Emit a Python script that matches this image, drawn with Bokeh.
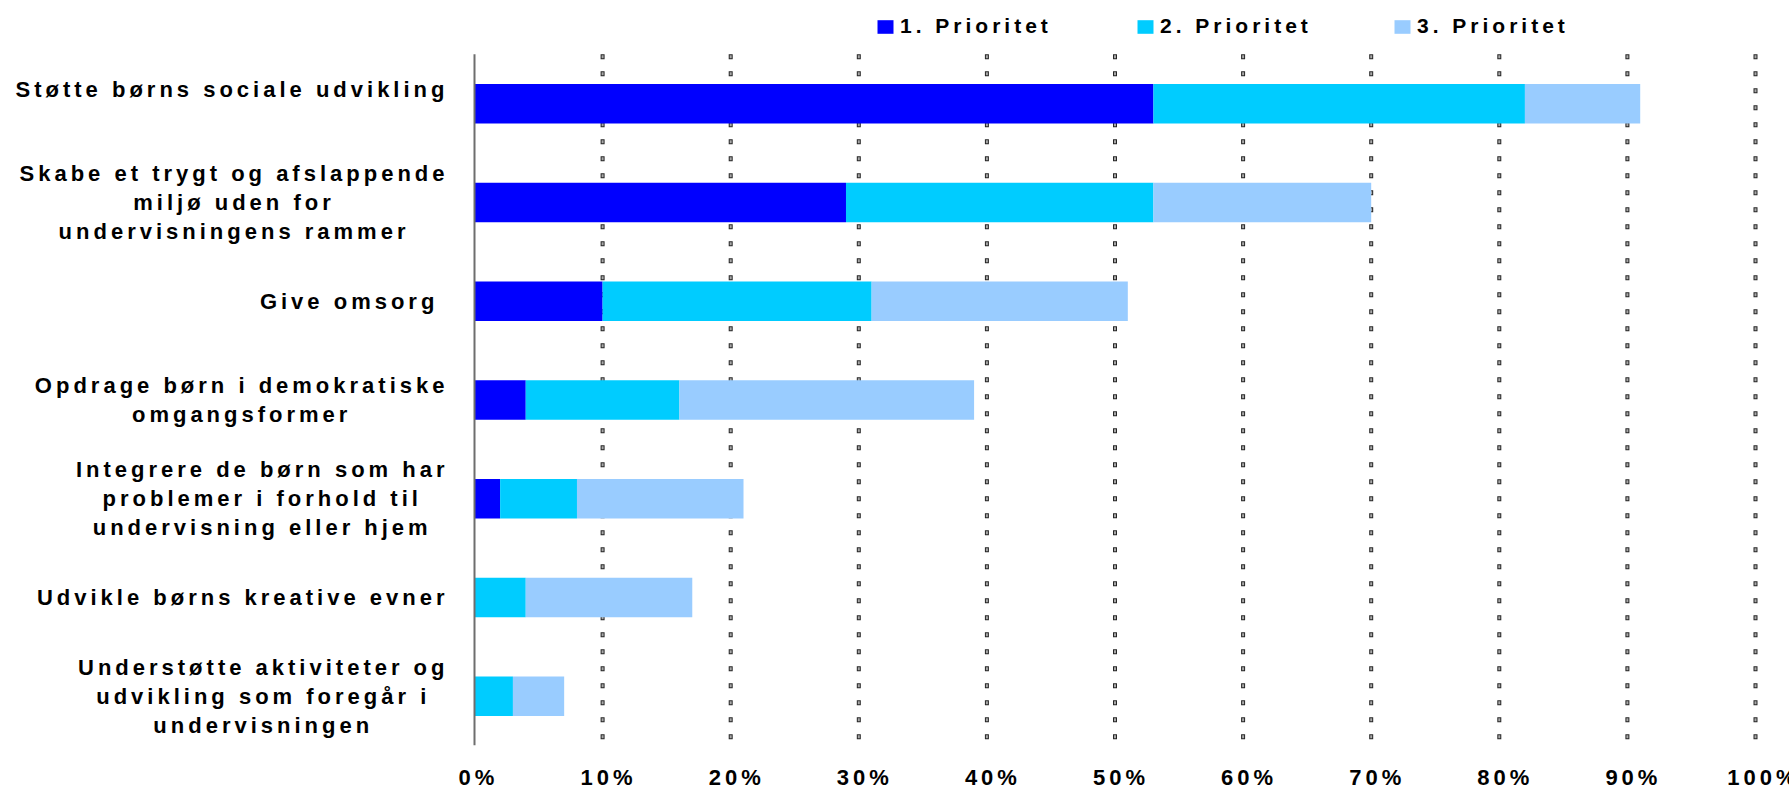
from bokeh.plotting import figure
from bokeh.models import (ColumnDataSource, LabelSet, Legend, LegendItem,
                          FixedTicker, Range1d)
from bokeh.core.properties import value
from bokeh.embed import file_html
from bokeh.resources import INLINE

# ---------------- data ----------------
categories = [
    "Støtte børns sociale udvikling",
    "Skabe et trygt og afslappende miljø uden for undervisningens rammer",
    "Give omsorg",
    "Opdrage børn i demokratiske omgangsformer",
    "Integrere de børn som har problemer i forhold til undervisning eller hjem",
    "Udvikle børns kreative evner",
    "Understøtte aktiviteter og udvikling som foregår i undervisningen",
]
label_lines = [
    ["Støtte børns sociale udvikling", ""],
    ["Skabe et trygt og afslappende", "miljø uden for", "undervisningens rammer"],
    ["Give omsorg "],
    ["Opdrage børn i demokratiske", "omgangsformer"],
    ["Integrere de børn som har", "problemer i forhold til", "undervisning eller hjem"],
    ["Udvikle børns kreative evner"],
    ["Understøtte aktiviteter og", "udvikling som foregår i", "undervisningen"],
]
series = ["1. Prioritet", "2. Prioritet", "3. Prioritet"]
prio1 = [53, 29, 10, 4, 2, 0, 0]
prio2 = [29, 24, 21, 12, 6, 4, 3]
prio3 = [9, 17, 20, 23, 13, 13, 4]
x_ticks = [0, 10, 20, 30, 40, 50, 60, 70, 80, 90, 100]
x_tick_labels = ["0%", "10%", "20%", "30%", "40%", "50%", "60%", "70%", "80%", "90%", "100%"]
grid_ticks = [10, 20, 30, 40, 50, 60, 70, 80, 90, 100]

# ---------------- layout / style ----------------
W_PX, H_PX = 1789, 792
ZERO_PX, FULL_PX = 474, 1755      # screen x of 0% and 100%
TOP_PX, BOTTOM_PX = 54, 748       # screen y of category band
colors = ["#0000FF", "#00CCFF", "#99CCFF"]
FONT = "Liberation Sans"
LS = 4.0            # letter spacing (px)
LABEL_FS = 22
LINE_H = 29
LABEL_RIGHT = 444 - ZERO_PX   # px relative to 0%

# Arial/Liberation Sans Bold advance widths (per 1000 em)
AW = {' ': 278, '.': 278, '%': 889, 'S': 667, 'U': 722, 'G': 778, 'O': 778, 'I': 278,
      'a': 556, 'b': 611, 'c': 556, 'd': 611, 'e': 556, 'f': 333, 'g': 611, 'h': 611,
      'i': 278, 'j': 278, 'k': 556, 'l': 278, 'm': 889, 'n': 611, 'o': 611, 'p': 611,
      'q': 611, 'r': 389, 's': 556, 't': 333, 'u': 611, 'v': 556, 'w': 778, 'x': 556,
      'y': 556, 'z': 500, 'ø': 611, 'å': 556, 'æ': 889}


def ink_width(t, fs):
    return sum(AW.get(c, 556) for c in t) * fs / 1000.0 + LS * (len(t) - 1)


n = len(categories)
ypos = list(range(n))
px_per_x = (FULL_PX - ZERO_PX) / 100.0
px_per_row = (BOTTOM_PX - TOP_PX) / n
x_start = -ZERO_PX / px_per_x
x_end = (W_PX - ZERO_PX) / px_per_x
y_bottom = n - 0.5
y_top = -0.5 - TOP_PX / px_per_row

p = figure(width=W_PX, height=H_PX,
           x_range=Range1d(x_start, x_end),
           y_range=Range1d(y_bottom, y_top),
           output_backend="svg", toolbar_location=None,
           min_border_left=0, min_border_right=0,
           min_border_top=0, min_border_bottom=H_PX - BOTTOM_PX)
p.styles = {"letter-spacing": f"{LS}px"}
p.outline_line_color = None
p.background_fill_color = "white"
p.xgrid.visible = False
p.ygrid.visible = False
p.yaxis.visible = False

# grid: hollow little squares drawn as dashed segments
gsrc = ColumnDataSource(dict(x=grid_ticks, y0=[-0.5] * len(grid_ticks),
                             y1=[n - 0.5] * len(grid_ticks)))
p.segment(x0="x", x1="x", y0="y0", y1="y1", source=gsrc,
          line_color="#262626", line_width=4, line_dash="5 12")
p.segment(x0="x", x1="x", y0="y0", y1="y1", source=gsrc,
          line_color="#a8a8a8", line_width=2, line_dash="3 14",
          line_dash_offset=-1)

src = ColumnDataSource(dict(y=ypos, p1=prio1, p2=prio2, p3=prio3))
rs = p.hbar_stack(["p1", "p2", "p3"], y="y", height=0.4, color=colors,
                  line_color=None, source=src)

# vertical axis line at 0%
p.segment(x0=[x_ticks[0]], x1=[x_ticks[0]], y0=[-0.5], y1=[n - 0.5],
          line_color="#6e6e6e", line_width=2)

# x axis
xa = p.xaxis[0]
xa.ticker = FixedTicker(ticks=x_ticks)
xa.major_label_overrides = {t: lab for t, lab in zip(x_ticks, x_tick_labels)}
xa.axis_line_color = None
xa.major_tick_line_color = None
xa.minor_tick_line_color = None
xa.major_tick_out = 0
xa.major_tick_in = 0
xa.major_label_standoff = 19
xa.major_label_text_font = FONT
xa.major_label_text_font_style = "bold"
xa.major_label_text_font_size = "22px"
xa.major_label_text_color = "black"

# category labels (lines centered inside a right-aligned block)
lx, ly, lt, lxo, lyo = [], [], [], [], []
for yi, lines in zip(ypos, label_lines):
    k = len(lines)
    Wb = max(ink_width(l, LABEL_FS) for l in lines if l)
    cx = LABEL_RIGHT - Wb / 2.0
    for i, l in enumerate(lines):
        if not l:
            continue
        lx.append(0)
        ly.append(yi)
        lt.append(l)
        lxo.append(cx - LS * (len(l) - 1) / 2.0)
        lyo.append(((k - 1) / 2.0 - i) * LINE_H)
lsrc = ColumnDataSource(dict(x=lx, y=ly, text=lt, xo=lxo, yo=lyo))
labels = LabelSet(x="x", y="y", text="text", x_offset="xo", y_offset="yo",
                  source=lsrc, text_align="center", text_baseline="middle",
                  text_font=value(FONT), text_font_style="bold",
                  text_font_size=f"{LABEL_FS}px", text_color="black")
p.add_layout(labels)

# legend: three separate items placed above the bars
legend_x = [875, 1135, 1392]
legend_bottom = 41
for r, name, lxp in zip(rs, series, legend_x):
    leg = Legend(items=[LegendItem(label=name, renderers=[r])],
                 location=(lxp, BOTTOM_PX - legend_bottom),
                 orientation="horizontal",
                 border_line_color=None, background_fill_alpha=0,
                 padding=0, margin=0, spacing=0,
                 glyph_width=20, glyph_height=17, label_height=17,
                 label_standoff=5,
                 label_text_font=FONT, label_text_font_style="bold",
                 label_text_font_size="21px", label_text_color="black")
    p.add_layout(leg)

open("out.html", "w").write(file_html(p, INLINE))
